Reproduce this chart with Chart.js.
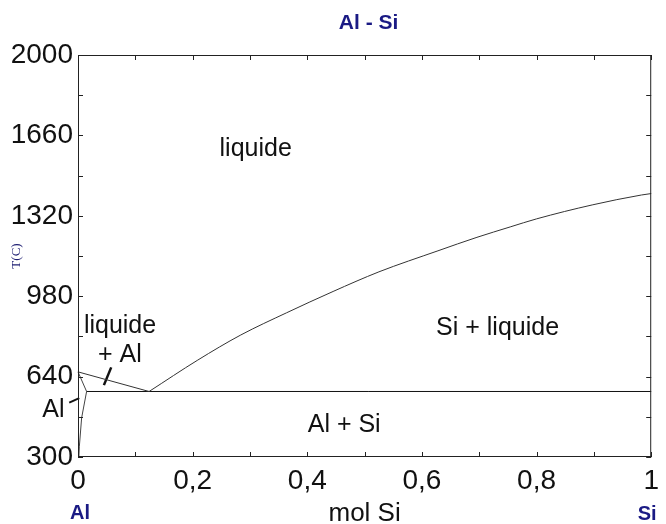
<!DOCTYPE html>
<html>
<head>
<meta charset="utf-8">
<title>Al - Si</title>
<script src="https://cdn.jsdelivr.net/npm/chart.js@4/dist/chart.umd.min.js"></script>
<style>
  html, body { margin: 0; padding: 0; background: #fff; }
</style>
</head>
<body>
<canvas id="chart" width="666" height="524"></canvas>
<script>
// Al - Si phase diagram (x = mol Si, T in C)
const liquidusAlX = [0, 0.124];
const liquidusAlT = [660, 577];

const liquidusSiX = [0.124, 0.209, 0.284, 0.364, 0.445, 0.525, 0.628, 0.696, 0.754, 0.80, 0.897, 0.983, 1.0];
const liquidusSiT = [577, 710, 816, 910, 1000, 1083, 1172, 1229, 1273, 1307, 1366, 1408, 1414];

const eutecticX = [0.015, 1];
const eutecticT = [577, 577];

const solidusX = [0, 0.015];
const solidusT = [660, 577];

const solvusX = [0.015, 0.0063, 0.0023, 0.0015];
const solvusT = [577, 465, 343, 300];

// little pointer strokes next to the "Al" and "liquide + Al" labels
const alPointerX = [-0.0153, 0.0022];
const alPointerT = [530, 549];
const liqPointerX = [0.0452, 0.0579];
const liqPointerT = [604, 679];

const xTickLabels = ['0', '0,2', '0,4', '0,6', '0,8', '1'];
const yTickLabels = [300, 640, 980, 1320, 1660, 2000];
const endLabels = ['Al', 'Si'];

const regionLabels = [
    {text: 'liquide', x: 0.310, t: 1573},
    {text: 'Si + liquide', x: 0.732, t: 816},
    {text: 'liquide', x: 0.0733, t: 826},
    {text: '+ Al', x: 0.0730, t: 703},
    {text: 'Al + Si', x: 0.4644, t: 407},
    {text: 'Al', x: -0.043, t: 468}
];

const SANS = '"Liberation Sans", Arial, sans-serif';
const BLUE = '#1a1a84';

function pts(xs, ts) {
    return xs.map((x, i) => ({x: x, y: ts[i]}));
}

function curve(xs, ts, color, width) {
    return {
        data: pts(xs, ts),
        showLine: true,
        borderColor: color,
        borderWidth: width,
        pointRadius: 0,
        tension: 0,
        clip: false
    };
}

const decor = {
    id: 'decor',
    afterDraw(chart) {
        const {ctx, chartArea: a, scales: {x, y}} = chart;
        ctx.save();

        // frame + inward ticks on all four sides
        ctx.strokeStyle = '#222';
        ctx.lineWidth = 1;
        ctx.strokeRect(a.left + 0.5, a.top + 0.5, a.right - a.left - 1, a.bottom - a.top - 1);
        ctx.beginPath();
        x.ticks.forEach(tk => {
            let px = Math.round(x.getPixelForValue(tk.value)) + 0.5;
            ctx.moveTo(px, a.bottom); ctx.lineTo(px, a.bottom - 5);
            ctx.moveTo(px, a.top); ctx.lineTo(px, a.top + 5);
        });
        y.ticks.forEach(tk => {
            let py = Math.round(y.getPixelForValue(tk.value)) + 0.5;
            ctx.moveTo(a.left, py); ctx.lineTo(a.left + 5, py);
            ctx.moveTo(a.right, py); ctx.lineTo(a.right - 5, py);
        });
        ctx.stroke();

        // phase labels
        ctx.fillStyle = '#111';
        ctx.font = '25px ' + SANS;
        ctx.textAlign = 'center';
        ctx.textBaseline = 'alphabetic';
        regionLabels.forEach(l => {
            ctx.fillText(l.text, x.getPixelForValue(l.x), y.getPixelForValue(l.t));
        });

        // title and pure-element labels
        ctx.fillStyle = BLUE;
        ctx.font = 'bold 21px ' + SANS;
        ctx.textBaseline = 'middle';
        ctx.fillText('Al - Si', (a.left + a.right) / 2 + 4, a.top - 32);
        ctx.font = 'bold 20px ' + SANS;
        ctx.fillText(endLabels[0], x.getPixelForValue(0) + 2, a.bottom + 56);
        ctx.fillText(endLabels[1], x.getPixelForValue(1) - 4, a.bottom + 57);
        ctx.restore();
    }
};

const siCurve = curve(liquidusSiX, liquidusSiT, '#333', 1);
siCurve.cubicInterpolationMode = 'monotone';

new Chart(document.getElementById('chart'), {
    type: 'scatter',
    data: {
        datasets: [
            curve(liquidusAlX, liquidusAlT, '#333', 1),
            siCurve,
            curve(eutecticX, eutecticT, '#111', 1),
            curve(solidusX, solidusT, '#444', 1),
            curve(solvusX, solvusT, '#444', 1),
            curve(alPointerX, alPointerT, '#111', 2),
            curve(liqPointerX, liqPointerT, '#111', 2.5)
        ]
    },
    options: {
        responsive: false,
        animation: false,
        layout: {padding: {top: 55, right: 7, left: 0, bottom: 0}},
        plugins: {legend: {display: false}, tooltip: {enabled: false}},
        scales: {
            x: {
                type: 'linear',
                min: 0,
                max: 1,
                afterFit(s) { s.height = 67; },
                grid: {display: false, drawTicks: false},
                border: {display: false},
                ticks: {
                    stepSize: 0.1,
                    autoSkip: false,
                    maxRotation: 0,
                    padding: 7,
                    color: '#111',
                    font: {family: SANS, size: 28},
                    callback(v) {
                        let k = Math.round(v * 10);
                        return k % 2 === 0 ? xTickLabels[k / 2] : '';
                    }
                },
                title: {
                    display: true,
                    text: 'mol Si',
                    color: '#111',
                    font: {family: SANS, size: 26, lineHeight: 1},
                    padding: {top: 0, bottom: -3}
                }
            },
            y: {
                min: 300,
                max: 2000,
                afterFit(s) { s.width = 78; },
                grid: {display: false, drawTicks: false},
                border: {display: false},
                ticks: {
                    stepSize: 170,
                    autoSkip: false,
                    padding: 5,
                    color: '#111',
                    font: {family: SANS, size: 28},
                    callback(v) {
                        return yTickLabels.includes(v) ? String(v) : '';
                    }
                },
                title: {
                    display: true,
                    text: 'T(C)',
                    color: '#1a1a70',
                    font: {family: '"Liberation Serif", "Times New Roman", serif', size: 13},
                    padding: {top: 9, bottom: 0}
                }
            }
        }
    },
    plugins: [decor]
});
</script>
</body>
</html>
